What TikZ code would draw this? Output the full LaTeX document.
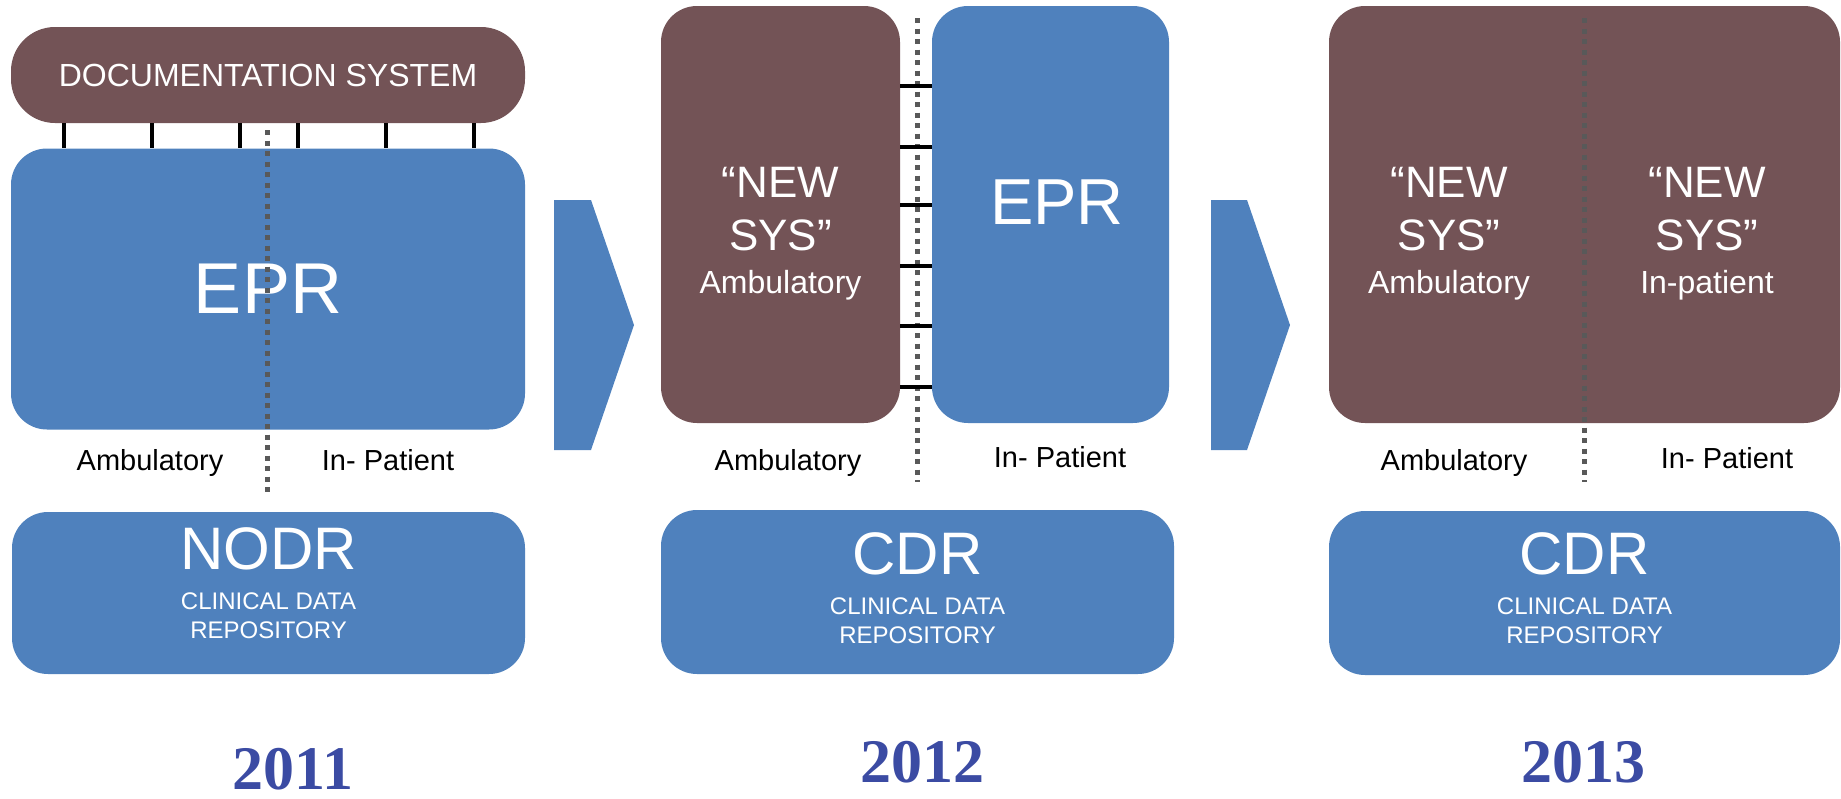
\documentclass[tikz,border=0pt]{standalone}
\usepackage{fontspec}
\setmainfont{Liberation Sans}
\newfontfamily\yearfont{Liberation Serif}
\usepackage{tikz}
\usetikzlibrary{positioning,calc}
\definecolor{eprblue}{HTML}{4F81BD}
\definecolor{sysbrown}{HTML}{735356}
\definecolor{divgrey}{HTML}{595959}
\definecolor{yearblue}{HTML}{3B4BA3}
\newcommand\fsSub{\fontsize{16}{19}\selectfont}
\newcommand\fsRepo{\fontsize{30}{30}\selectfont}
\tikzset{
  blk/.style     = {rounded corners=18pt, inner sep=0pt, text=white},
  epr/.style     = {blk, fill=eprblue},
  newsys/.style  = {blk, fill=sysbrown},
  plug/.style    = {draw=black, line width=2pt},
  divide/.style  = {draw=divgrey, line width=2.5pt, dash pattern=on 2.5pt off 2.75pt},
  lab/.style     = {font={\fontsize{14.5}{17}\selectfont}, inner sep=0pt, anchor=base},
  sysname/.style = {font={\fontsize{22}{26.5}\selectfont}, text=white, align=center,
                    inner sep=0pt, anchor=north},
  repo/.style    = {font={\fontsize{12}{14.5}\selectfont}, text=white, align=center,
                    inner sep=0pt, anchor=north},
  yr/.style      = {font={\yearfont\bfseries\fontsize{31}{31}\selectfont}, text=yearblue,
                    inner sep=0pt, anchor=base},
  chev/.style    = {fill=eprblue},
}
\begin{document}
\begin{tikzpicture}[x=0.5pt, y=-0.5pt]
  \useasboundingbox (0,0) rectangle (1841,798);

  % 2011
  \node[newsys, minimum width=257pt, minimum height=48pt, rounded corners=22pt,
        font={\fontsize{16}{19}\selectfont}] (doc) at (268,75) {DOCUMENTATION SYSTEM};
  \node[epr, minimum width=257pt, minimum height=140.5pt,
        font={\fontsize{36}{40}\selectfont}] (epr1) at (268,289) {EPR};
  \foreach \x in {64,152,240,298,386,474}
    \draw[plug] ($(doc.south west)+(\x-11,0)$) -- ($(epr1.north west)+(\x-11,0)$);
  \coordinate (div1top) at (267,130);
  \coordinate (div1bot) at (267,492);
  \draw[divide] (div1top) -- (div1bot);
  \node[lab] (amb1) at (150,470) {Ambulatory};
  \node[lab] (inp1) at (388,470) {In- Patient};
  \node[epr, minimum width=256.5pt, minimum height=81pt] (nodr) at (268.5,593) {};
  \node[repo] (nodrtxt) at (268.5,527) {{\fsRepo NODR}\\[5.5pt]CLINICAL DATA\\REPOSITORY};
  \node[yr] (yr1) at (293,789) {2011};

  % step arrow
  \fill[chev] (554,200) -- (591,200) -- (634,325) -- (591,450) -- (554,450) -- cycle;

  % 2012
  \node[newsys, minimum width=119.5pt, minimum height=208.5pt] (new1) at (780.5,214.5) {};
  \node[epr, minimum width=118.5pt, minimum height=208.5pt] (epr2) at (1050.5,214.5) {};
  \node[sysname] (new1txt) at (780.5,167) {“NEW\\SYS”\\[-5pt]{\fsSub Ambulatory}};
  \node[font={\fontsize{32.5}{36}\selectfont}, text=white, inner sep=0pt, anchor=base]
       (epr2txt) at (1057,224) {EPR};
  \coordinate (div2top) at (917,18);
  \coordinate (div2bot) at (917,482);
  \draw[divide] (div2top) -- (div2bot);
  \foreach \y in {86,147,205,266,326,387}
    \draw[plug] ($(new1.north east)+(0,\y-6)$) -- ($(epr2.north west)+(0,\y-6)$);
  \node[lab] (amb2) at (788,470) {Ambulatory};
  \node[lab] (inp2) at (1060,467) {In- Patient};
  \node[epr, minimum width=256.5pt, minimum height=82pt] (cdr2) at (917.5,592) {};
  \node[repo] (cdr2txt) at (917.5,532) {{\fsRepo CDR}\\[5.5pt]CLINICAL DATA\\REPOSITORY};
  \node[yr] (yr2) at (922,782) {2012};

  % step arrow
  \fill[chev] (1211,200) -- (1247,200) -- (1290,325) -- (1247,450) -- (1211,450) -- cycle;

  % 2013
  \node[newsys, minimum width=255.5pt, minimum height=208.5pt] (new2) at (1584.5,214.5) {};
  \node[sysname] (new2amb) at (1449,167) {“NEW\\SYS”\\[-5pt]{\fsSub Ambulatory}};
  \node[sysname] (new2inp) at (1707,167) {“NEW\\SYS”\\[-5pt]{\fsSub In-patient}};
  \coordinate (div3top) at (1584,18);
  \coordinate (div3bot) at (1584,482);
  \draw[divide] (div3top) -- (div3bot);
  \node[lab] (amb3) at (1454,470) {Ambulatory};
  \node[lab] (inp3) at (1727,468) {In- Patient};
  \node[epr, minimum width=255.5pt, minimum height=82pt] (cdr3) at (1584.5,593) {};
  \node[repo] (cdr3txt) at (1584.5,532) {{\fsRepo CDR}\\[5.5pt]CLINICAL DATA\\REPOSITORY};
  \node[yr] (yr3) at (1583,782) {2013};
\end{tikzpicture}
\end{document}
